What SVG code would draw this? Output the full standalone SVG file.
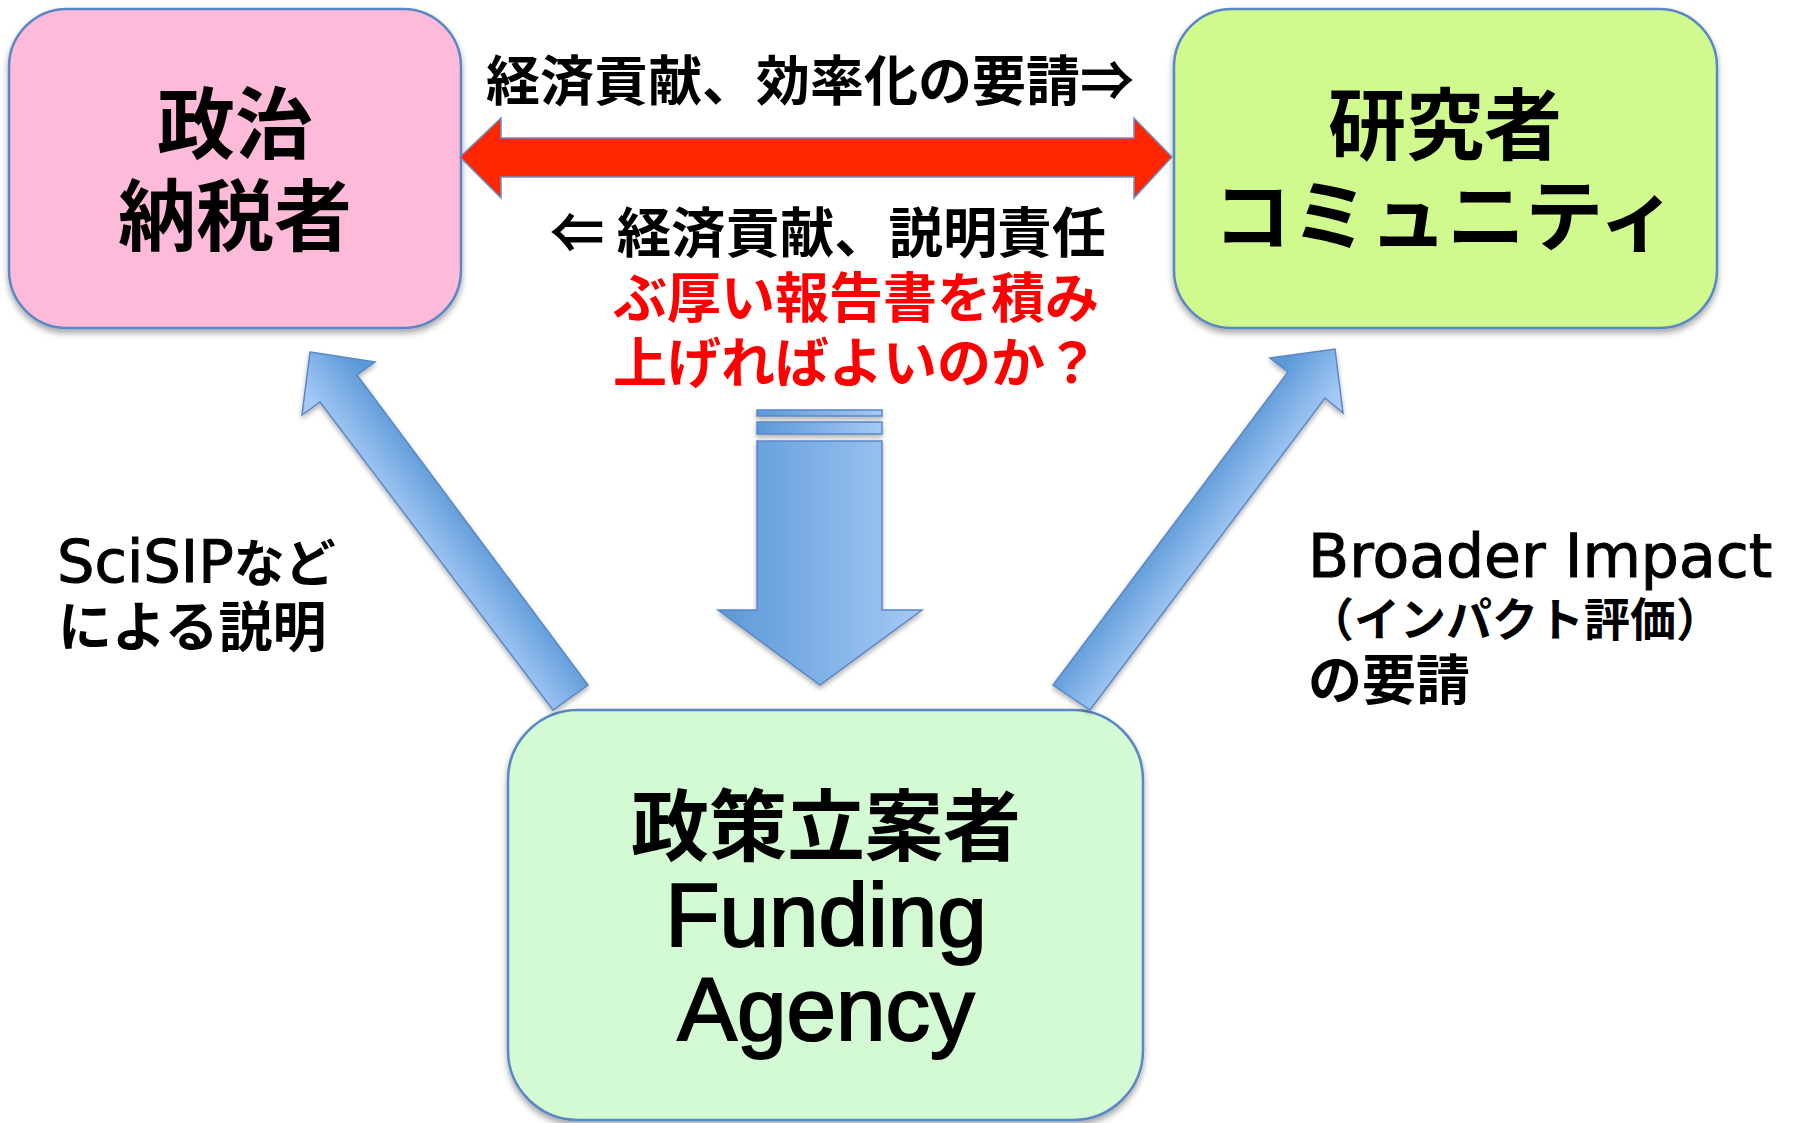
<svg xmlns="http://www.w3.org/2000/svg" width="1795" height="1123" viewBox="0 0 1795 1123">
  <defs>
    <filter id="shadow" x="-10%" y="-10%" width="120%" height="125%">
      <feDropShadow dx="0" dy="4" stdDeviation="3" flood-color="#000" flood-opacity="0.35"/>
    </filter>
    <filter id="ashadow" x="-20%" y="-20%" width="140%" height="140%">
      <feDropShadow dx="0" dy="3" stdDeviation="2.5" flood-color="#000" flood-opacity="0.3"/>
    </filter>
    <linearGradient id="gDown" x1="0" y1="0" x2="1" y2="0">
      <stop offset="0" stop-color="#5B99D8"/>
      <stop offset="1" stop-color="#A5C9F5"/>
    </linearGradient>
    <linearGradient id="gUL" gradientUnits="userSpaceOnUse" x1="314" y1="406" x2="362" y2="370">
      <stop offset="0" stop-color="#A5C9F5"/>
      <stop offset="1" stop-color="#5B99D8"/>
    </linearGradient>
    <linearGradient id="gUR" gradientUnits="userSpaceOnUse" x1="1282" y1="367" x2="1330" y2="403">
      <stop offset="0" stop-color="#5B99D8"/>
      <stop offset="1" stop-color="#A5C9F5"/>
    </linearGradient>
  </defs>
  <style>
    .box { stroke: #5A87C5; stroke-width: 2.5; filter: url(#shadow); }
    .node-text { font-family: "Noto Sans CJK JP", sans-serif; font-weight: bold; font-size: 78px; fill: #000; text-anchor: middle; }
    .latin { font-family: "Liberation Sans", Arial, sans-serif; font-weight: normal; font-size: 89px; fill: #000; stroke: #000; stroke-width: 2; text-anchor: middle; }
    .mid { font-family: "Noto Sans CJK JP", sans-serif; font-weight: bold; font-size: 54px; fill: #000; }
    .red { fill: #FF0000; }
    .label { font-family: "DejaVu Sans", "Noto Sans CJK JP", sans-serif; font-weight: normal; fill: #000; }
    .lat { stroke: #000; stroke-width: 1; }
    .cjk { font-family: "Noto Sans CJK JP", sans-serif; font-weight: bold; }
    .blue-arrow { stroke: #5A87C5; stroke-width: 1.5; filter: url(#ashadow); }
  </style>
  <rect width="1795" height="1123" fill="#FFFFFF"/>

  <g id="node-seiji">
    <rect class="box" x="9" y="9" width="452" height="319" rx="58" ry="58" fill="#FEBAD9"/>
    <text class="node-text" x="235" y="153">政治</text>
    <text class="node-text" x="235" y="245">納税者</text>
  </g>

  <g id="node-kenkyusha">
    <rect class="box" x="1174" y="9" width="543" height="319" rx="58" ry="58" fill="#D1FA8E"/>
    <text class="node-text" x="1445" y="154">研究者</text>
    <text class="node-text" x="1445" y="245">コミュニティ</text>
  </g>

  <g id="node-seisaku">
    <rect class="box" x="508" y="710" width="635" height="410" rx="70" ry="70" fill="#D3FAD3"/>
    <text class="node-text" x="826" y="855">政策立案者</text>
    <text class="latin" x="826" y="946">Funding</text>
    <text class="latin" x="826" y="1040">Agency</text>
  </g>

  <g id="connectors">
    <polygon id="arrow-both" points="460,157 501,118 501,138 1134,138 1134,118 1172,157 1134,198 1134,177 501,177 501,198" fill="#FF2600" stroke="#6F8FC8" stroke-width="1.5"/>
    <polygon id="arrow-up-left" class="blue-arrow" fill="url(#gUL)" points="310,352 375,362 357,375 588,685 553,710 320,402 302,415"/>
    <polygon id="arrow-up-right" class="blue-arrow" fill="url(#gUR)" points="1335,349 1343,413 1325,398 1090,710 1053,685 1288,372 1270,358"/>
    <g id="arrow-down" class="blue-arrow">
      <rect x="757" y="410" width="125" height="6" fill="url(#gDown)"/>
      <rect x="757" y="422" width="125" height="12" fill="url(#gDown)"/>
      <polygon points="757,441 882,441 882,610 922,610 820,685 718,610 757,610" fill="url(#gDown)"/>
    </g>
  </g>

  <g id="labels">
    <text class="mid" x="810" y="101" text-anchor="middle">経済貢献、効率化の要請⇒</text>
    <text class="mid" x="550" y="253" textLength="556" lengthAdjust="spacingAndGlyphs">⇐ 経済貢献、説明責任</text>
    <text class="mid red" x="613" y="318">ぶ厚い報告書を積み</text>
    <text class="mid red" x="613" y="383">上げればよいのか？</text>

    <text class="label" x="57" y="582"><tspan class="lat" font-size="59">SciSIP</tspan><tspan class="cjk" font-size="51">など</tspan></text>
    <text class="label cjk" x="58" y="647" font-size="54">による説明</text>

    <text class="label lat" x="1308" y="577" font-size="60">Broader Impact</text>
    <text class="label cjk" x="1308" y="636" font-size="46">（インパクト評価）</text>
    <text class="label cjk" x="1308" y="700" font-size="54">の要請</text>
  </g>
</svg>
